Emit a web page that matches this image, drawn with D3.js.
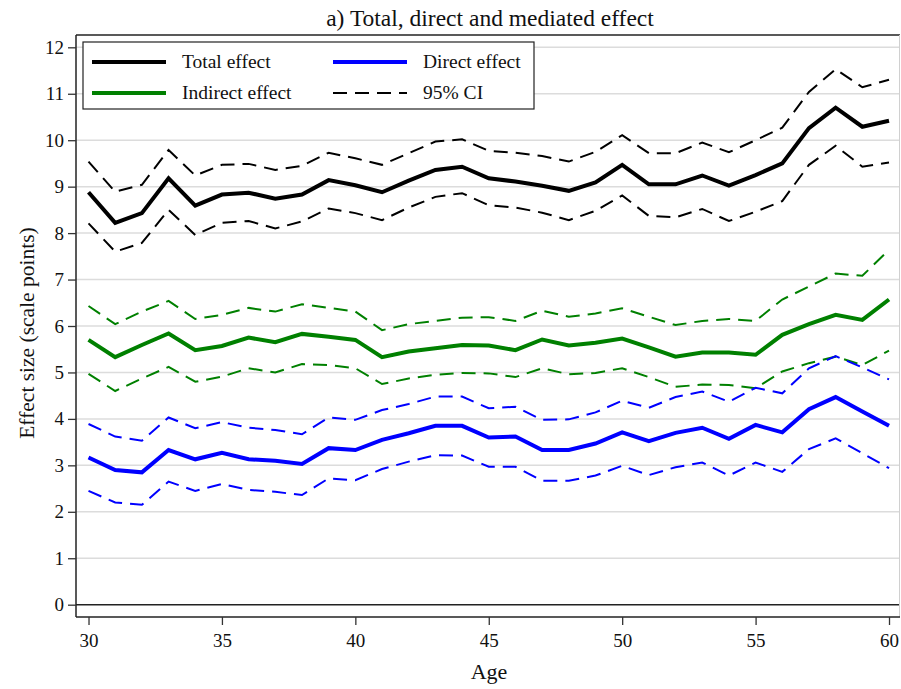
<!DOCTYPE html>
<html>
<head>
<meta charset="utf-8">
<script src="https://cdn.jsdelivr.net/npm/d3@7"></script>
<style>
  body { margin: 0; background: #fff; }
  svg { display: block; font-family: "Liberation Serif", "Times New Roman", serif; }
  svg text { font-family: "Liberation Serif", "Times New Roman", serif; }
</style>
</head>
<body>
<svg id="grafico" width="901" height="689"></svg>
<script>
const idades = d3.range(30, 61);

const total = [8.88, 8.22, 8.43, 9.18, 8.59, 8.83, 8.87, 8.74, 8.83, 9.14, 9.03, 8.88, 9.13, 9.36, 9.43,
  9.18, 9.11, 9.02, 8.91, 9.09, 9.47, 9.05, 9.05, 9.24, 9.02, 9.25, 9.50, 10.26, 10.70, 10.29, 10.42];
const totalSup = [9.54, 8.89, 9.04, 9.79, 9.24, 9.47, 9.49, 9.36, 9.45, 9.73, 9.61, 9.47, 9.72, 9.97, 10.02,
  9.77, 9.73, 9.66, 9.54, 9.75, 10.11, 9.72, 9.72, 9.95, 9.74, 10.00, 10.27, 11.04, 11.53, 11.14, 11.30];
const totalInf = [8.21, 7.60, 7.79, 8.50, 7.96, 8.22, 8.26, 8.10, 8.25, 8.53, 8.43, 8.28, 8.55, 8.78, 8.86,
  8.60, 8.55, 8.44, 8.28, 8.48, 8.81, 8.37, 8.34, 8.52, 8.26, 8.46, 8.69, 9.47, 9.88, 9.43, 9.52];

const indireto = [5.70, 5.33, 5.59, 5.84, 5.48, 5.57, 5.75, 5.65, 5.83, 5.77, 5.70, 5.33, 5.45, 5.52, 5.59,
  5.58, 5.48, 5.71, 5.58, 5.64, 5.73, 5.54, 5.34, 5.43, 5.43, 5.38, 5.81, 6.04, 6.24, 6.13, 6.57];
const indiretoSup = [6.43, 6.04, 6.31, 6.54, 6.15, 6.24, 6.39, 6.31, 6.47, 6.39, 6.31, 5.91, 6.04, 6.11, 6.18,
  6.19, 6.11, 6.33, 6.20, 6.27, 6.38, 6.20, 6.02, 6.11, 6.15, 6.11, 6.57, 6.85, 7.13, 7.08, 7.64];
const indiretoInf = [4.97, 4.60, 4.87, 5.12, 4.80, 4.91, 5.09, 5.00, 5.18, 5.16, 5.09, 4.75, 4.87, 4.95, 4.99,
  4.98, 4.90, 5.09, 4.96, 4.99, 5.09, 4.90, 4.69, 4.74, 4.73, 4.66, 5.02, 5.20, 5.34, 5.16, 5.47];

const direto = [3.17, 2.90, 2.85, 3.33, 3.13, 3.27, 3.13, 3.10, 3.03, 3.37, 3.33, 3.55, 3.69, 3.85, 3.85,
  3.60, 3.62, 3.33, 3.33, 3.47, 3.71, 3.52, 3.70, 3.81, 3.57, 3.87, 3.71, 4.21, 4.47, 4.16, 3.85];
const diretoSup = [3.89, 3.62, 3.53, 4.03, 3.80, 3.93, 3.81, 3.76, 3.67, 4.03, 3.98, 4.19, 4.32, 4.48, 4.48,
  4.23, 4.26, 3.98, 3.99, 4.14, 4.39, 4.24, 4.47, 4.59, 4.37, 4.67, 4.55, 5.09, 5.35, 5.11, 4.85];
const diretoInf = [2.45, 2.20, 2.15, 2.65, 2.45, 2.60, 2.47, 2.43, 2.36, 2.72, 2.68, 2.92, 3.08, 3.22, 3.21,
  2.97, 2.97, 2.67, 2.67, 2.78, 2.99, 2.79, 2.96, 3.06, 2.78, 3.06, 2.86, 3.35, 3.58, 3.26, 2.94];

const ticksX = [30, 35, 40, 45, 50, 55, 60];
const ticksY = d3.range(0, 13);

const series = [
  { valores: totalSup, cor: "#000", tracejada: true },
  { valores: totalInf, cor: "#000", tracejada: true },
  { valores: indiretoSup, cor: "#008000", tracejada: true },
  { valores: indiretoInf, cor: "#008000", tracejada: true },
  { valores: diretoSup, cor: "#0000ff", tracejada: true },
  { valores: diretoInf, cor: "#0000ff", tracejada: true },
  { valores: total, cor: "#000", tracejada: false },
  { valores: indireto, cor: "#008000", tracejada: false },
  { valores: direto, cor: "#0000ff", tracejada: false }
];

const legenda = [
  { rotulo: "Total effect", cor: "#000", tracejada: false, col: 0, lin: 0 },
  { rotulo: "Direct effect", cor: "#0000ff", tracejada: false, col: 1, lin: 0 },
  { rotulo: "Indirect effect", cor: "#008000", tracejada: false, col: 0, lin: 1 },
  { rotulo: "95% CI", cor: "#000", tracejada: true, col: 1, lin: 1 }
];

const esq = 76, dir = 900, topo = 35, base = 617;
const TRACO = "14,8";

const x = d3.scaleLinear().domain([29.531, 60.412]).range([esq, dir]);
const y = d3.scaleLinear().domain([-0.265, 12.265]).range([base, topo]);

const svg = d3.select("#grafico");

// grade horizontal cinza clara
svg.append("g")
  .selectAll("line")
  .data(ticksY.filter((v) => v > 0))
  .join("line")
  .attr("x1", esq).attr("x2", dir)
  .attr("y1", (d) => y(d)).attr("y2", (d) => y(d))
  .attr("stroke", "#dcdcdc").attr("stroke-width", 1.5);

// linha do zero
svg.append("line")
  .attr("x1", esq).attr("x2", dir)
  .attr("y1", y(0)).attr("y2", y(0))
  .attr("stroke", "#222").attr("stroke-width", 1.5);

// moldura: topo escuro, direita clara
svg.append("line").attr("x1", esq).attr("x2", dir).attr("y1", topo).attr("y2", topo)
  .attr("stroke", "#222").attr("stroke-width", 1.5);
svg.append("line").attr("x1", dir - 0.5).attr("x2", dir - 0.5).attr("y1", topo).attr("y2", base)
  .attr("stroke", "#d0d0d0").attr("stroke-width", 1);

const linha = (vals) => d3.line().x((_, i) => x(idades[i])).y((d) => y(d))(vals);

svg.append("g")
  .selectAll("path")
  .data(series)
  .join("path")
  .attr("d", (s) => linha(s.valores))
  .attr("fill", "none")
  .attr("stroke", (s) => s.cor)
  .attr("stroke-width", (s) => (s.tracejada ? 2 : 4))
  .attr("stroke-dasharray", (s) => (s.tracejada ? TRACO : null))
  .attr("stroke-linejoin", "miter");

svg.append("g")
  .attr("transform", `translate(${esq},0)`)
  .call(d3.axisLeft(y).tickValues(ticksY).tickSize(8).tickPadding(4).tickFormat(d3.format("d")))
  .attr("font-family", null)
  .call((sel) => sel.select(".domain").attr("d", `M0,${topo}V${base}`).attr("stroke", "#222").attr("stroke-width", 1.5))
  .call((sel) => sel.selectAll(".tick line").attr("stroke", "#333").attr("stroke-width", 1.3))
  .call((sel) => sel.selectAll("text").attr("font-size", "19px").attr("fill", "#111"));

svg.append("g")
  .attr("transform", `translate(0,${base})`)
  .call(d3.axisBottom(x).tickValues(ticksX).tickSize(8).tickPadding(9).tickFormat(d3.format("d")))
  .attr("font-family", null)
  .call((sel) => sel.select(".domain").attr("d", `M${esq},0H${dir}`).attr("stroke", "#222").attr("stroke-width", 1.5))
  .call((sel) => sel.selectAll(".tick line").attr("stroke", "#333").attr("stroke-width", 1.3))
  .call((sel) => sel.selectAll("text").attr("font-size", "19px").attr("fill", "#111"));

// legenda
const leg = svg.append("g");
leg.append("rect")
  .attr("x", 83).attr("y", 42).attr("width", 451).attr("height", 67)
  .attr("fill", "#fff").attr("stroke", "#222").attr("stroke-width", 1.2);

const item = leg.selectAll("g.item")
  .data(legenda)
  .join("g")
  .attr("class", "item")
  .attr("transform", (d) => `translate(${92 + d.col * 241},${62 + d.lin * 31})`);

item.append("line")
  .attr("x1", 0).attr("x2", 74)
  .attr("stroke", (d) => d.cor)
  .attr("stroke-width", (d) => (d.tracejada ? 2 : 4))
  .attr("stroke-dasharray", (d) => (d.tracejada ? TRACO : null));

item.append("text")
  .attr("x", 90).attr("y", 6)
  .attr("font-size", "19.5px").attr("fill", "#111")
  .text((d) => d.rotulo);

svg.append("text")
  .attr("x", 490).attr("y", 26)
  .attr("text-anchor", "middle").attr("font-size", "23.5px").attr("fill", "#111")
  .text("a) Total, direct and mediated effect");

svg.append("text")
  .attr("x", 489).attr("y", 679)
  .attr("text-anchor", "middle").attr("font-size", "22px").attr("fill", "#111")
  .text("Age");

svg.append("text")
  .attr("transform", `translate(34,333) rotate(-90)`)
  .attr("text-anchor", "middle").attr("font-size", "21.5px").attr("fill", "#111")
  .text("Effect size (scale points)");
</script>
</body>
</html>
